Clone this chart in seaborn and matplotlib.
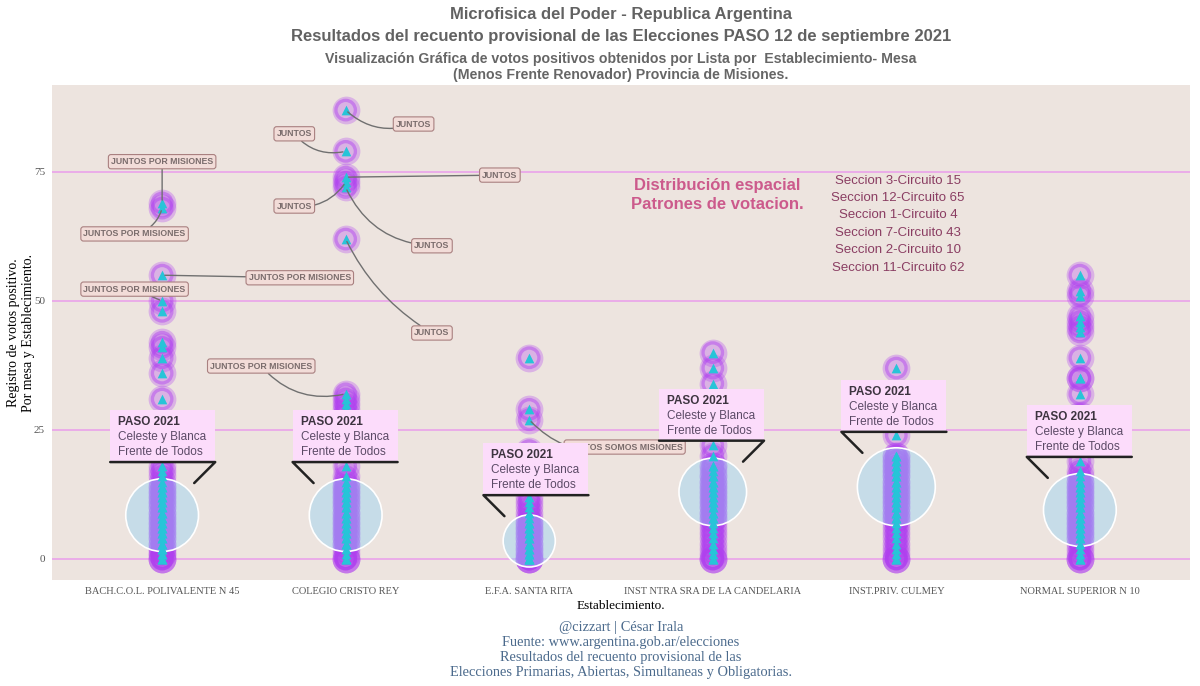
import numpy as np
import pandas as pd
import matplotlib
matplotlib.use("Agg")
import matplotlib.pyplot as plt
import seaborn as sns
from matplotlib.patches import Rectangle, Ellipse
from matplotlib.lines import Line2D

# --- datos -----------------------------------------------------------------
establecimientos = [
    "BACH.C.O.L. POLIVALENTE N 45", "COLEGIO CRISTO REY", "E.F.A. SANTA RITA",
    "INST NTRA SRA DE LA CANDELARIA", "INST.PRIV. CULMEY", "NORMAL SUPERIOR N 10",
]

# votos Frente de Todos por mesa (grupo encerrado por el circulo)
fdt_bach = [3, 4, 5, 6, 7, 8, 9, 10, 11, 12, 13, 14]
fdt_cristo = [3, 4, 5, 6, 7, 8, 9, 10, 11, 12, 13, 14]
fdt_santa_rita = [0, 1, 2, 3, 4, 5, 6, 7]
fdt_candelaria = [8, 9, 10, 11, 12, 13, 14, 15, 16, 17, 18]
fdt_culmey = [8, 9, 10, 11, 12, 13, 14, 15, 16, 17, 18, 19, 20]
fdt_normal = [4, 5, 6, 7, 8, 9, 10, 11, 12, 13, 14, 15]

# votos del resto de las listas por mesa
otros_bach = [0, 0, 0, 1, 1, 2, 2, 3, 4, 5, 6, 7, 8, 9, 10, 11, 12, 13, 14, 15,
              16, 17, 18, 31, 36, 39, 41, 42, 48, 50, 55, 68, 69]
otros_cristo = [0, 0, 0, 1, 2, 3, 4, 5, 6, 7, 8, 9, 10, 11, 12, 13, 14, 15, 16,
                18, 28, 29, 30, 31, 32, 62, 72, 73, 74, 79, 87]
otros_santa_rita = [0, 0, 0, 1, 2, 3, 4, 5, 6, 7, 8, 9, 10, 11, 12, 21, 27, 29, 39]
otros_candelaria = [0, 0, 0, 1, 2, 3, 4, 5, 6, 7, 8, 9, 10, 11, 12, 13, 14, 15,
                    16, 18, 20, 22, 27, 30, 34, 37, 40]
otros_culmey = [0, 0, 0, 1, 2, 3, 4, 5, 6, 7, 8, 9, 10, 11, 12, 13, 14, 15, 16,
                17, 18, 19, 20, 24, 37]
otros_normal = [0, 0, 0, 1, 2, 3, 4, 5, 6, 7, 8, 9, 10, 11, 12, 13, 14, 15, 16,
                17, 19, 25, 28, 32, 35, 35, 39, 44, 45, 46, 47, 51, 52, 55]

# listas destacadas
etiqueta_est = [0, 0, 0, 0, 1, 1, 1, 1, 1, 1, 1, 2]
etiqueta_votos = [69, 68, 55, 50, 87, 79, 74, 73, 72, 62, 32, 27]
etiqueta_lista = ["JUNTOS POR MISIONES"] * 4 + ["JUNTOS"] * 6 + \
                 ["JUNTOS POR MISIONES", "JUNTOS SOMOS MISIONES"]

secciones = ["Seccion 3-Circuito 15", "Seccion 12-Circuito 65", "Seccion 1-Circuito 4",
             "Seccion 7-Circuito 43", "Seccion 2-Circuito 10", "Seccion 11-Circuito 62"]

# posicion de las etiquetas (layout)
etiqueta_pos = [(0.0, 77), (-0.15, 63), (0.75, 54.5), (-0.15, 52.3), (1.37, 84.3),
                (0.72, 82.4), (1.84, 74.4), (0.72, 68.4), (1.47, 60.7), (1.47, 43.8),
                (0.54, 37.4), (2.52, 21.7)]
etiqueta_rad = [0, 0.3, 0, 0, -0.3, 0.3, 0, 0.3, -0.3, -0.15, 0.3, -0.3]
lado_paso = [1, -1, -1, 1, -1, -1]

fdt = [fdt_bach, fdt_cristo, fdt_santa_rita, fdt_candelaria, fdt_culmey, fdt_normal]
otros = [otros_bach, otros_cristo, otros_santa_rita, otros_candelaria, otros_culmey, otros_normal]

rows = []
for est, a, b in zip(establecimientos, fdt, otros):
    for v in a + b:
        rows.append({"establecimiento": est, "votos": v})
df = pd.DataFrame(rows)

# --- estilo ----------------------------------------------------------------
sns.set_theme(style="white")
plt.rcParams["font.family"] = ["Liberation Sans", "DejaVu Sans"]
serif = ["Liberation Serif", "DejaVu Serif"]

fig = plt.figure(figsize=(12, 6.86), dpi=100)
ax = fig.add_axes([52 / 1200, 1 - 580 / 686, 1138 / 1200, 495 / 686])
ax.set_facecolor("#ede4df")
for s in ax.spines.values():
    s.set_visible(False)

purple = "#b040f0"
# halo exterior + anillo de cada mesa
sns.stripplot(data=df, x="establecimiento", y="votos", order=establecimientos,
              jitter=False, size=20, color=purple, alpha=0.3, linewidth=0,
              ax=ax, zorder=2)
sns.stripplot(data=df, x="establecimiento", y="votos", order=establecimientos,
              jitter=False, size=14, color="none", alpha=0.45,
              edgecolor=purple, linewidth=2.4, ax=ax, zorder=3)

ax.set_xlim(-0.6, 5.6)
ax.set_ylim(-4.07, 91.86)
ax.set_yticks([0, 25, 50, 75])
ax.yaxis.grid(True, color="#eaa2ea", lw=1.2)
ax.xaxis.grid(False)
ax.set_axisbelow(True)

ax.tick_params(axis="both", length=3, color="#555555", labelcolor="#555555", pad=2)
ax.tick_params(axis="x", labelsize=7.5)
ax.tick_params(axis="y", labelsize=8)
for lab in ax.get_xticklabels() + ax.get_yticklabels():
    lab.set_family(serif)
ax.set_xlabel("Establecimiento.", family=serif, fontsize=9.5, color="black", labelpad=3)
ax.set_ylabel("Registro de votos positivo.\nPor mesa y Establecimiento.", family=serif,
              fontsize=10, color="black")
ax.yaxis.set_label_coords(-0.015, 0.5)

# circulos que encierran al Frente de Todos
fig.canvas.draw()
bbox = ax.get_window_extent()
ppu_x = bbox.width / 6.2
ppu_y = bbox.height / (91.86 + 4.07)
expand_px = 8
to_data = ax.transData.inverted()
for i, vals in enumerate(fdt):
    centro = (min(vals) + max(vals)) / 2
    r_px = (max(vals) - min(vals)) / 2 * ppu_y + expand_px
    ax.add_patch(Ellipse((i, centro), 2 * r_px / ppu_x, 2 * r_px / ppu_y,
                         facecolor=(0.57, 0.82, 0.96, 0.42), edgecolor="white",
                         lw=1.2, zorder=4))

    # etiqueta PASO 2021
    cx, cy = ax.transData.transform((i, centro))
    s = lado_paso[i]
    d = (r_px + 9) * 0.707
    ex, ey = cx + s * d, cy + d
    kx, ky = ex + s * 21, ey + 21
    ux = kx - s * 105
    x0 = min(kx, ux)
    p0 = to_data.transform((x0, ky))
    p1 = to_data.transform((x0 + 105, ky + 52))
    ax.add_patch(Rectangle(p0, p1[0] - p0[0], p1[1] - p0[1], facecolor="#fcdcfb",
                           edgecolor="none", zorder=7))
    pts = to_data.transform([(ux, ky), (kx, ky), (ex, ey)])
    ax.add_line(Line2D(pts[:, 0], pts[:, 1], color="#222222", lw=1.8, zorder=8))
    t1 = to_data.transform((x0 + 8, ky + 40))
    t2 = to_data.transform((x0 + 8, ky + 25))
    t3 = to_data.transform((x0 + 8, ky + 10))
    ax.text(t1[0], t1[1], "PASO 2021", fontsize=8.5, fontweight="bold", color="#3d3440",
            va="center", ha="left", zorder=9)
    ax.text(t2[0], t2[1], "Celeste y Blanca", fontsize=8.5, color="#5b4a66",
            va="center", ha="left", zorder=9)
    ax.text(t3[0], t3[1], "Frente de Todos", fontsize=8.5, color="#5b4a66",
            va="center", ha="left", zorder=9)

sns.stripplot(data=df, x="establecimiento", y="votos", order=establecimientos,
              jitter=False, size=7, marker="^", color="#27c4d8", linewidth=0,
              ax=ax, zorder=5)
ax.set_xlim(-0.6, 5.6)
ax.set_ylim(-4.07, 91.86)

# etiquetas de listas
for e, v, txt, pos, rad in zip(etiqueta_est, etiqueta_votos, etiqueta_lista,
                               etiqueta_pos, etiqueta_rad):
    ax.annotate(txt, xy=(e, v), xytext=pos, fontsize=6.3, fontweight="bold",
                color="#7a6c6c", ha="center", va="center", zorder=6,
                bbox=dict(boxstyle="round,pad=0.3", facecolor="#f2dcd8",
                          edgecolor="#a98080", lw=0.8),
                arrowprops=dict(arrowstyle="-", color="#707070", lw=1,
                                connectionstyle=f"arc3,rad={rad}",
                                shrinkA=0, shrinkB=2))

ax.text(3.025, 70.6, "Distribución espacial\nPatrones de votacion.", fontsize=12,
        fontweight="bold", color="#cc5a8c", ha="center", va="center", linespacing=1.35)
ax.text(4.01, 64.9, "\n".join(secciones), fontsize=9.5, color="#8a3d62",
        ha="center", va="center", linespacing=1.6)

# titulos
xc = (52 + 1190) / 2 / 1200
fig.text(xc, 1 - 14 / 686, "Microfisica del Poder - Republica Argentina", ha="center",
         va="center", fontsize=12, fontweight="bold", color="#626262")
fig.text(xc, 1 - 37 / 686,
         "Resultados del recuento provisional de las Elecciones PASO 12 de septiembre 2021",
         ha="center", va="center", fontsize=12, fontweight="bold", color="#626262")
fig.text(xc, 1 - 67 / 686,
         "Visualización Gráfica de votos positivos obtenidos por Lista por  Establecimiento- Mesa\n"
         "(Menos Frente Renovador) Provincia de Misiones.",
         ha="center", va="center", fontsize=10.2, fontweight="bold", color="#666666",
         linespacing=1.1)

caption = ["@cizzart | César Irala", "Fuente: www.argentina.gob.ar/elecciones",
           "Resultados del recuento provisional de las",
           "Elecciones Primarias, Abiertas, Simultaneas y Obligatorias."]
fig.text(xc, 1 - 650 / 686, "\n".join(caption), ha="center", va="center",
         fontsize=10.4, family=serif, color="#4b6a8c", linespacing=1.2)

fig.savefig("out.png", dpi=100)
